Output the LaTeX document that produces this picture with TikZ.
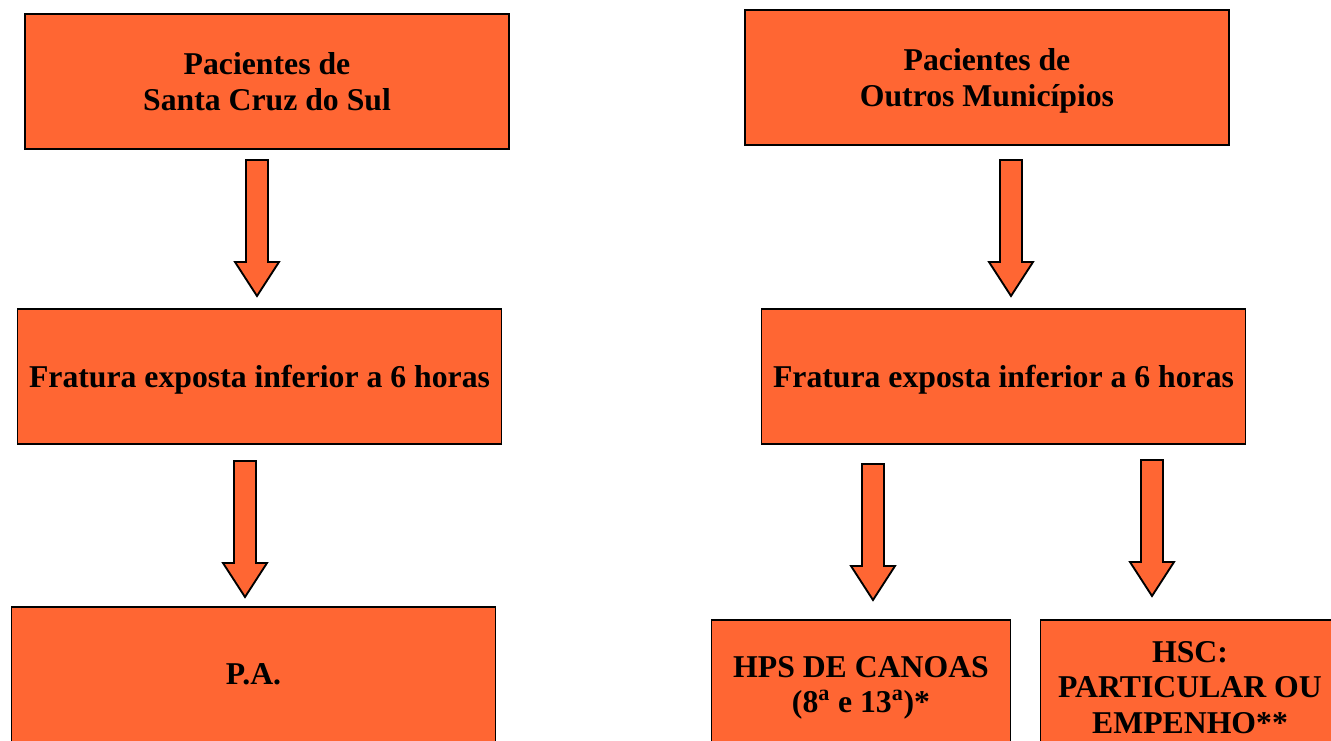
\documentclass[tikz,border=0pt]{standalone}
\usepackage{fontspec}
\setmainfont{Liberation Serif}
\definecolor{boxorange}{RGB}{255,102,51}

\tikzset{
  boxbase/.style={draw=black, fill=boxorange, line width=1pt, minimum height=101.25pt, inner sep=0pt, align=center, font=\bfseries\fontsize{23.8}{26.4}\selectfont},
  box/.style={boxbase, minimum width=363pt, text depth=0pt},
  smallbox/.style={boxbase, minimum width=224pt},
  arrowbody/.style={draw=black, fill=boxorange, line width=1.4pt, line join=miter},
}
% block arrow pointing down, starting at a named coordinate
\newcommand{\fatarrow}[1]{\draw[arrowbody] (#1) ++(-11,0) -- ++(22,0) -- ++(0,102) -- ++(11,0) -- ++(-22,34) -- ++(-22,-34) -- ++(11,0) -- cycle;}

\begin{document}
\begin{tikzpicture}[x=0.75pt,y=0.75pt,yscale=-1,xscale=1]

\useasboundingbox (0,0) rectangle (1331,740);
\clip (0,0) rectangle (1331,740);

\node[box] (scs) at (267,81.5) {Pacientes de\\Santa Cruz do Sul};
\node[box] (outros) at (987,77.5) {Pacientes de\\Outros Municípios};

\node[box] (frat1) at (259.5,376.5) {Fratura exposta inferior a 6 horas};
\node[box] (frat2) at (1003.5,376.5) {Fratura exposta inferior a 6 horas};

\node[box] (pa) at (253.5,674.5) {P.A.};
\node[smallbox] (hps) at (861,687.5) {HPS DE CANOAS\\(8\textsuperscript{a} e 13\textsuperscript{a})*};
\node[smallbox] (hsc) at (1190,687.5) {HSC:\\PARTICULAR OU\\EMPENHO**};

\coordinate (a1) at (257,160);
\coordinate (a2) at (1011,160);
\coordinate (a3) at (245,461);
\coordinate (a4) at (873,464);
\coordinate (a5) at (1152,460);

\fatarrow{a1}
\fatarrow{a2}
\fatarrow{a3}
\fatarrow{a4}
\fatarrow{a5}

\end{tikzpicture}
\end{document}
